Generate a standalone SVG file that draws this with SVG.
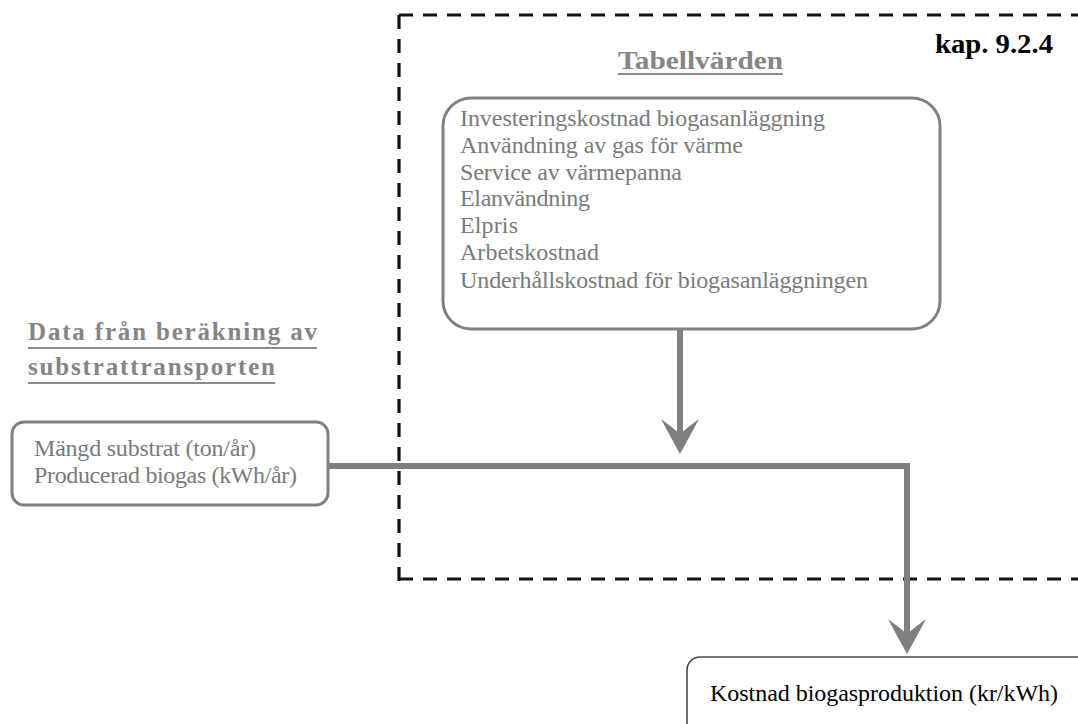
<svg xmlns="http://www.w3.org/2000/svg" width="1078" height="724" viewBox="0 0 1078 724">
  <style>
    .frame { fill: none; stroke: #111; stroke-width: 3.2; stroke-dasharray: 14 10; }
    .box { fill: #fff; stroke: #808080; stroke-width: 3; }
    .outbox { fill: #fff; stroke: #4a4a4a; stroke-width: 1.6; }
    .item { font-family: "Liberation Serif", "Times New Roman", serif; font-size: 24px; fill: #7a7a7a; }
    .head { font-family: "Liberation Serif", "Times New Roman", serif; font-size: 25px; font-weight: bold; fill: #858585; }
    .uline { stroke: #8a8a8a; stroke-width: 2; }
    .chap { font-family: "Liberation Serif", "Times New Roman", serif; font-size: 27px; font-weight: bold; fill: #000; }
    .result { font-family: "Liberation Serif", "Times New Roman", serif; font-size: 24px; fill: #000; }
    .conn { fill: none; stroke: #808080; stroke-width: 6; }
    .head-arrow { fill: #808080; }
  </style>

  <!-- dashed boundary of chapter 9.2.4 -->
  <g id="chapter-frame">
    <path class="frame" d="M399,15 V590"/>
    <path class="frame" d="M399,15 H1090"/>
    <path class="frame" d="M399,579 H1090"/>
    <text class="chap" x="935" y="53" textLength="118" lengthAdjust="spacingAndGlyphs">kap. 9.2.4</text>
  </g>

  <!-- connectors -->
  <g id="connectors">
    <path class="conn" d="M680,329 V436"/>
    <path class="head-arrow" d="M680,454 Q670,436 661,419 Q672,427 680,434 Q688,427 699,419 Q690,436 680,454 Z"/>
    <path class="conn" d="M328,466 H907 V636"/>
    <path class="head-arrow" d="M907,654 Q897,636 888,619 Q899,627 907,634 Q915,627 926,619 Q917,636 907,654 Z"/>
  </g>

  <!-- table values -->
  <g id="table-values">
    <text class="head" x="618" y="69" font-size="26" textLength="165" lengthAdjust="spacingAndGlyphs">Tabellvärden</text>
    <line class="uline" x1="618" y1="74" x2="783" y2="74"/>
    <rect class="box" x="443" y="98" width="497" height="231" rx="28" ry="28"/>
    <text class="item" x="460" y="126" textLength="365" lengthAdjust="spacing">Investeringskostnad biogasanläggning</text>
    <text class="item" x="460" y="153" textLength="283" lengthAdjust="spacing">Användning av gas för värme</text>
    <text class="item" x="460" y="180" textLength="222" lengthAdjust="spacing">Service av värmepanna</text>
    <text class="item" x="460" y="206" textLength="130" lengthAdjust="spacing">Elanvändning</text>
    <text class="item" x="460" y="233" textLength="58" lengthAdjust="spacing">Elpris</text>
    <text class="item" x="460" y="260" textLength="139" lengthAdjust="spacing">Arbetskostnad</text>
    <text class="item" x="460" y="288" textLength="408" lengthAdjust="spacing">Underhållskostnad för biogasanläggningen</text>
  </g>

  <!-- transport calculation data -->
  <g id="transport-data">
    <text class="head" x="28" y="340" textLength="289" lengthAdjust="spacing">Data från beräkning av</text>
    <line class="uline" x1="28" y1="348" x2="317" y2="348"/>
    <text class="head" x="28" y="375" textLength="247" lengthAdjust="spacing">substrattransporten</text>
    <line class="uline" x1="28" y1="383" x2="275" y2="383"/>
    <rect class="box" x="12" y="422" width="316" height="83" rx="12" ry="12"/>
    <text class="item" x="34" y="456" textLength="222" lengthAdjust="spacing">Mängd substrat (ton/år)</text>
    <text class="item" x="34" y="483" textLength="263" lengthAdjust="spacing">Producerad biogas (kWh/år)</text>
  </g>

  <!-- resulting cost -->
  <g id="production-cost">
    <rect class="outbox" x="687" y="657" width="420" height="90" rx="13" ry="13"/>
    <text class="result" x="710" y="701" textLength="348" lengthAdjust="spacing">Kostnad biogasproduktion (kr/kWh)</text>
  </g>
</svg>
